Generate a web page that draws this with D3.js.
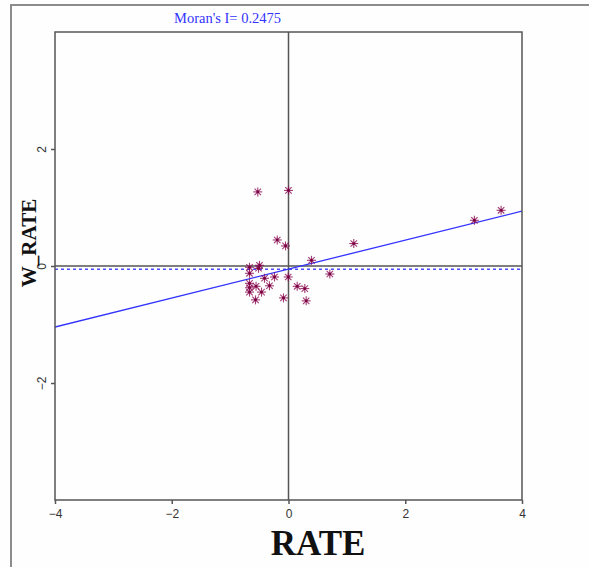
<!DOCTYPE html>
<html>
<head>
<meta charset="utf-8">
<script src="https://cdn.jsdelivr.net/npm/d3@7"></script>
<style>
  html, body { margin: 0; padding: 0; background: #fff; }
  svg { display: block; }
</style>
</head>
<body>
<svg id="chart" width="589" height="567"></svg>
<script>
// ---- data ----
const rate = [-0.526, 0.0, -0.193, -0.051, 1.118, 0.394, 0.708, -0.668, -0.497, -0.514,
              -0.668, -0.411, -0.240, -0.005, -0.668, -0.556, -0.326, -0.668, -0.462, -0.668,
              0.149, 0.279, -0.565, -0.086, 0.303, 3.185, 3.642];
const wRate = [1.267, 1.292, 0.445, 0.343, 0.384, 0.097, -0.137, -0.022, 0.012, -0.039,
               -0.125, -0.210, -0.188, -0.188, -0.296, -0.347, -0.338, -0.372, -0.446, -0.446,
               -0.347, -0.386, -0.579, -0.545, -0.596, 0.781, 0.952];
const moransI = 0.2475;
const intercept = -0.053;
const meanW = -0.056;
const xTicks = [-4, -2, 0, 2, 4];
const yTicks = [-2, 0, 2];
const xDomain = [-4, 4];
const yDomain = [-4, 4];

// ---- layout ----
const svg = d3.select("#chart");
const L = 55, R = 522, T = 32, B = 500;
const x = d3.scaleLinear().domain(xDomain).range([L, R]);
const y = d3.scaleLinear().domain(yDomain).range([B, T]);

svg.append("rect").attr("width", 589).attr("height", 567).attr("fill", "#fefefe");

// outer frame
svg.append("rect").attr("x", 11).attr("y", 5).attr("width", 600).attr("height", 600)
  .attr("fill", "none").attr("stroke", "#8c8c8c").attr("stroke-width", 2);

// x axis
const xAxis = d3.axisBottom(x).tickValues(xTicks).tickSize(4).tickFormat(d3.format("d"));
const gx = svg.append("g").attr("transform", `translate(0,${B})`).call(xAxis);
gx.select(".domain").remove();
gx.selectAll(".tick line").attr("stroke", "#555").attr("stroke-width", 1.5);
gx.selectAll(".tick text").attr("font-family", "Liberation Sans, Arial, sans-serif")
  .attr("font-size", 12).attr("fill", "#333").attr("dy", "0.95em");

// y axis
const yAxis = d3.axisLeft(y).tickValues(yTicks).tickSize(4).tickFormat(d3.format("d"));
const gy = svg.append("g").attr("transform", `translate(${L},0)`).call(yAxis);
gy.select(".domain").remove();
gy.selectAll(".tick line").attr("stroke", "#555").attr("stroke-width", 1.5);
gy.selectAll(".tick text").attr("font-family", "Liberation Sans, Arial, sans-serif")
  .attr("font-size", 12).attr("fill", "#333")
  .attr("x", 0).attr("dy", 0)
  .attr("transform", "translate(-9,0) rotate(-90)")
  .attr("text-anchor", "middle");

// clip
svg.append("clipPath").attr("id", "clip").append("rect")
  .attr("x", L).attr("y", T).attr("width", R - L).attr("height", B - T);
const plot = svg.append("g").attr("clip-path", "url(#clip)");

// zero lines
plot.append("line").attr("x1", x(xDomain[0])).attr("x2", x(xDomain[1]))
  .attr("y1", y(0)).attr("y2", y(0)).attr("stroke", "#555").attr("stroke-width", 1.5);
plot.append("line").attr("x1", x(0)).attr("x2", x(0))
  .attr("y1", y(yDomain[0])).attr("y2", y(yDomain[1])).attr("stroke", "#555").attr("stroke-width", 1.5);

// dashed mean line
plot.append("line").attr("x1", x(xDomain[0])).attr("x2", x(xDomain[1]))
  .attr("y1", y(meanW)).attr("y2", y(meanW))
  .attr("stroke", "#4d4dff").attr("stroke-width", 1.6).attr("stroke-dasharray", "3,3");

// regression line
plot.append("line")
  .attr("x1", x(xDomain[0])).attr("y1", y(intercept + moransI * xDomain[0]))
  .attr("x2", x(xDomain[1])).attr("y2", y(intercept + moransI * xDomain[1]))
  .attr("stroke", "#3333ff").attr("stroke-width", 1.3);

// points (asterisks)
const pts = rate.map((r, i) => ({ r, w: wRate[i] }));
const star = plot.selectAll("g.pt").data(pts).enter().append("g")
  .attr("class", "pt")
  .attr("transform", d => `translate(${x(d.r)},${y(d.w)})`);
const arm = 4.5;
[[0, -arm, 0, arm], [-arm, 0, arm, 0], [-3.2, -3.2, 3.2, 3.2], [-3.2, 3.2, 3.2, -3.2]].forEach(s => {
  star.append("line").attr("x1", s[0]).attr("y1", s[1]).attr("x2", s[2]).attr("y2", s[3])
    .attr("stroke", "#8b0a50").attr("stroke-width", 1.1).attr("stroke-opacity", 0.8);
});
star.append("circle").attr("r", 1.4).attr("fill", "#7a0040");

// plot frame
svg.append("rect").attr("x", L).attr("y", T).attr("width", R - L).attr("height", B - T)
  .attr("fill", "none").attr("stroke", "#555").attr("stroke-width", 1.5);

// title
svg.append("text").attr("x", 174).attr("y", 23)
  .attr("font-family", "Liberation Serif, Times New Roman, serif")
  .attr("font-size", 14.5).attr("fill", "#3333ff")
  .text("Moran's I= 0.2475");

// axis titles
svg.append("text").attr("x", 318).attr("y", 555).attr("text-anchor", "middle")
  .attr("font-family", "Liberation Serif, Times New Roman, serif")
  .attr("font-size", 35).attr("font-weight", "bold").attr("fill", "#111")
  .text("RATE");
svg.append("text").attr("transform", "translate(36,243) rotate(-90)").attr("text-anchor", "middle")
  .attr("font-family", "Liberation Serif, Times New Roman, serif")
  .attr("font-size", 21).attr("font-weight", "bold").attr("fill", "#111")
  .text("W_RATE");
</script>
</body>
</html>
